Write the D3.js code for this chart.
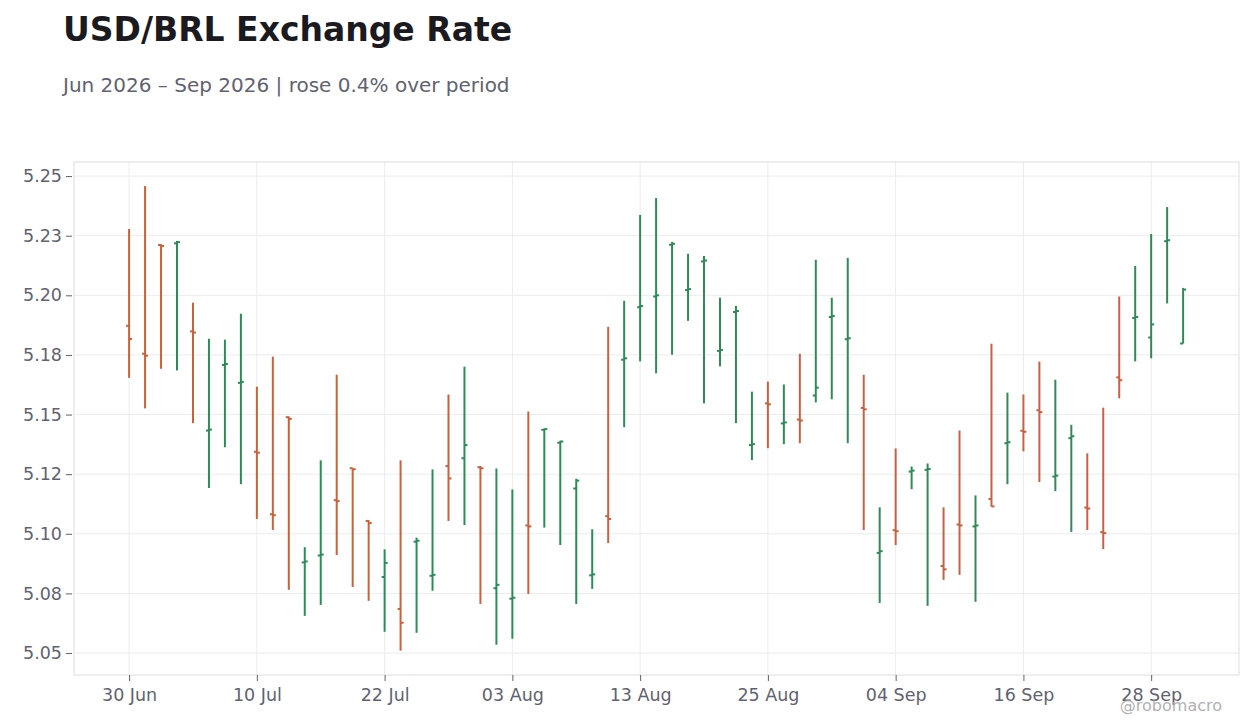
<!DOCTYPE html>
<html>
<head>
<meta charset="utf-8">
<script src="https://cdn.jsdelivr.net/npm/d3@7"></script>
<style>
  body { margin: 0; background: #ffffff; }
  svg { display: block; font-family: "DejaVu Sans", sans-serif; }
</style>
</head>
<body>
<div id="chart"></div>
<script>
// Business days Jun 30 - Sep 30 2026, OHLC
const dates = [
  "2026-06-30","2026-07-01","2026-07-02","2026-07-03","2026-07-06","2026-07-07","2026-07-08","2026-07-09","2026-07-10",
  "2026-07-13","2026-07-14","2026-07-15","2026-07-16","2026-07-17","2026-07-20","2026-07-21","2026-07-22","2026-07-23",
  "2026-07-24","2026-07-27","2026-07-28","2026-07-29","2026-07-30","2026-07-31","2026-08-03","2026-08-04","2026-08-05",
  "2026-08-06","2026-08-07","2026-08-10","2026-08-11","2026-08-12","2026-08-13","2026-08-14","2026-08-17","2026-08-18",
  "2026-08-19","2026-08-20","2026-08-21","2026-08-24","2026-08-25","2026-08-26","2026-08-27","2026-08-28","2026-08-31",
  "2026-09-01","2026-09-02","2026-09-03","2026-09-04","2026-09-07","2026-09-08","2026-09-09","2026-09-10","2026-09-11",
  "2026-09-14","2026-09-15","2026-09-16","2026-09-17","2026-09-18","2026-09-21","2026-09-22","2026-09-23","2026-09-24",
  "2026-09-25","2026-09-28","2026-09-29","2026-09-30"
];
const openVals = [
  5.1872,5.1755,5.2211,5.2218,5.1849,5.1433,5.1708,5.1633,5.1344,5.1082,5.1489,5.0880,5.0909,5.1141,5.1275,5.1054,
  5.0819,5.0685,5.0967,5.0824,5.1284,5.1317,5.1279,5.0772,5.0728,5.1035,5.1436,5.1382,5.1190,5.0826,5.1074,5.1730,
  5.1950,5.1995,5.2212,5.2022,5.2142,5.1767,5.1930,5.1372,5.1547,5.1463,5.1479,5.1580,5.1909,5.1816,5.1528,5.0920,
  5.1015,5.1261,5.1268,5.0865,5.1039,5.1031,5.1146,5.1380,5.1432,5.1518,5.1240,5.1401,5.1110,5.1007,5.1656,5.1905,
  5.1823,5.2227,5.1798
];
const highVals = [
  5.2278,5.2458,5.2214,5.2228,5.1969,5.1818,5.1814,5.1923,5.1617,5.1743,5.1492,5.0944,5.1308,5.1667,5.1275,5.1057,
  5.0935,5.1308,5.0984,5.1270,5.1584,5.1701,5.1284,5.1274,5.1186,5.1513,5.1441,5.1390,5.1231,5.1019,5.1868,5.1977,
  5.2337,5.2408,5.2224,5.2174,5.2165,5.1990,5.1956,5.1596,5.1638,5.1626,5.1755,5.2149,5.1990,5.2157,5.1667,5.1111,
  5.1358,5.1282,5.1295,5.1111,5.1433,5.1161,5.1797,5.1592,5.1584,5.1722,5.1646,5.1457,5.1337,5.1529,5.1995,5.2123,
  5.2257,5.2370,5.2031
];
const lowVals = [
  5.1654,5.1526,5.1692,5.1685,5.1464,5.1192,5.1363,5.1208,5.1062,5.1016,5.0765,5.0656,5.0702,5.0911,5.0777,5.0719,
  5.0589,5.0510,5.0585,5.0761,5.1054,5.1037,5.0706,5.0535,5.0560,5.0748,5.1026,5.0953,5.0706,5.0769,5.0961,5.1447,
  5.1723,5.1673,5.1751,5.1893,5.1547,5.1702,5.1464,5.1309,5.1359,5.1376,5.1380,5.1551,5.1564,5.1380,5.1016,5.0710,
  5.0953,5.1187,5.0698,5.0807,5.0828,5.0715,5.1114,5.1208,5.1346,5.1217,5.1179,5.1008,5.1016,5.0936,5.1568,5.1723,
  5.1736,5.1966,5.1798
];
const closeVals = [
  5.1817,5.1747,5.2207,5.2223,5.1844,5.1437,5.1712,5.1637,5.1340,5.1078,5.1482,5.0884,5.0913,5.1137,5.1271,5.1045,
  5.0878,5.0627,5.0971,5.0828,5.1232,5.1372,5.1275,5.0786,5.0732,5.1031,5.1439,5.1387,5.1223,5.0830,5.1062,5.1736,
  5.1955,5.2000,5.2216,5.2026,5.2146,5.1771,5.1934,5.1376,5.1543,5.1467,5.1475,5.1613,5.1913,5.1820,5.1522,5.0927,
  5.1011,5.1265,5.1272,5.0851,5.1035,5.1035,5.1115,5.1384,5.1428,5.1510,5.1244,5.1409,5.1106,5.1003,5.1644,5.1909,
  5.1878,5.2231,5.2024
];
const yTicks = [5.05, 5.075, 5.10, 5.125, 5.15, 5.175, 5.20, 5.225, 5.25];
const yTickLabels = ["5.05","5.08","5.10","5.12","5.15","5.18","5.20","5.23","5.25"];
const xTickDates = ["2026-06-30","2026-07-10","2026-07-22","2026-08-03","2026-08-13","2026-08-25","2026-09-04","2026-09-16","2026-09-28"];

const W = 1260, H = 728;
const margin = {top: 162, right: 21, bottom: 53, left: 74};
const width = W - margin.left - margin.right;
const height = H - margin.top - margin.bottom;

const upColor = "#2e8b57", downColor = "#c8613f";
const textColor = "#5f6270";

const data = dates.map((d, i) => ({
  date: d, i: i, open: openVals[i], high: highVals[i], low: lowVals[i], close: closeVals[i]
}));

const svg = d3.select("#chart").append("svg")
    .attr("width", W)
    .attr("height", H);

// Title and subtitle
svg.append("text")
    .attr("x", 63).attr("y", 41)
    .attr("font-size", 33).attr("font-weight", "bold")
    .attr("fill", "#1a1a1f")
    .text("USD/BRL Exchange Rate");

svg.append("text")
    .attr("x", 63).attr("y", 92)
    .attr("font-size", 20)
    .attr("fill", textColor)
    .text("Jun 2026 – Sep 2026 | rose 0.4% over period");

const g = svg.append("g")
    .attr("transform", `translate(${margin.left},${margin.top})`);

// trading days are evenly spaced, so index on x
const x = d3.scaleLinear()
    .domain([-3.45, dates.length - 1 + 3.5])
    .range([0, width]);

const y = d3.scaleLinear()
    .domain([5.0408, 5.2559])
    .range([height, 0]);

// gridlines
g.append("g")
  .selectAll("line")
  .data(yTicks)
  .enter().append("line")
    .attr("x1", 0).attr("x2", width)
    .attr("y1", d => y(d)).attr("y2", d => y(d))
    .attr("stroke", "#ececee");

g.append("g")
  .selectAll("line")
  .data(xTickDates)
  .enter().append("line")
    .attr("x1", d => x(dates.indexOf(d))).attr("x2", d => x(dates.indexOf(d)))
    .attr("y1", 0).attr("y2", height)
    .attr("stroke", "#ececee");

// plot frame
g.append("rect")
    .attr("width", width).attr("height", height)
    .attr("fill", "none")
    .attr("stroke", "#dedee0");

// axes
const yAxis = g.append("g")
    .call(d3.axisLeft(y).tickValues(yTicks).tickFormat((d, i) => yTickLabels[i]).tickSize(6).tickPadding(6));
yAxis.select(".domain").remove();
yAxis.selectAll("line").attr("stroke", "#5f6068").attr("transform", "translate(-2,0)");
yAxis.selectAll("text")
    .attr("font-family", "DejaVu Sans")
    .attr("font-size", 17.5)
    .attr("fill", textColor);

const xAxis = g.append("g")
    .attr("transform", `translate(0,${height})`)
    .call(d3.axisBottom(x)
      .tickValues(xTickDates.map(d => dates.indexOf(d)))
      .tickFormat(i => d3.timeFormat("%d %b")(d3.timeParse("%Y-%m-%d")(dates[i])))
      .tickSize(6).tickPadding(8));
xAxis.select(".domain").remove();
xAxis.selectAll("line").attr("stroke", "#5f6068");
xAxis.selectAll("text")
    .attr("font-family", "DejaVu Sans")
    .attr("font-size", 17.5)
    .attr("fill", textColor);

// OHLC bars
const tickLen = 3;
const bars = g.append("g")
  .selectAll("g")
  .data(data)
  .enter().append("g")
    .attr("stroke", d => d.close > d.open ? upColor : downColor)
    .attr("stroke-width", 2);

bars.append("line")
    .attr("x1", d => x(d.i)).attr("x2", d => x(d.i))
    .attr("y1", d => y(d.high)).attr("y2", d => y(d.low));

bars.append("line")
    .attr("x1", d => x(d.i) - tickLen).attr("x2", d => x(d.i))
    .attr("y1", d => y(d.open)).attr("y2", d => y(d.open));

bars.append("line")
    .attr("x1", d => x(d.i)).attr("x2", d => x(d.i) + tickLen)
    .attr("y1", d => y(d.close)).attr("y2", d => y(d.close));

// watermark
svg.append("text")
    .attr("x", 1222).attr("y", 711)
    .attr("text-anchor", "end")
    .attr("font-size", 16)
    .attr("fill", "#a9a9ad")
    .attr("opacity", 0.9)
    .text("@robomacro");
</script>
</body>
</html>
